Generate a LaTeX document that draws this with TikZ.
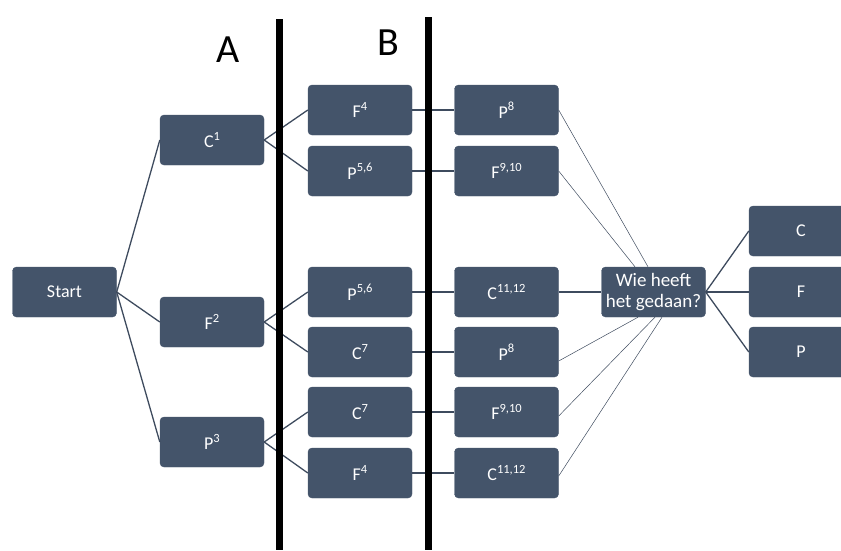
\documentclass[tikz,border=0pt]{standalone}
\usepackage{fontspec}
\setmainfont{Carlito}
\definecolor{boxcol}{HTML}{44546A}
\definecolor{linecol}{HTML}{3E4B5E}
\newcommand{\supnum}[1]{\raisebox{0.42em}{\fontsize{12.5}{12.5}\selectfont #1}}
\tikzset{
  box/.style={draw=boxcol, fill=boxcol, rounded corners=4pt, minimum width=104pt, minimum height=50pt, inner sep=0pt, text=white, align=center, font=\fontsize{18}{21}\selectfont},
  link/.style={draw=linecol, line width=1.3pt},
  thinlink/.style={draw=linecol, line width=0.5pt},
  bar/.style={line width=7pt, black},
  colname/.style={font=\fontsize{40}{40}\selectfont}
}
\begin{document}
\begin{tikzpicture}[x=1pt, y=-1pt]
    \useasboundingbox (0,0) rectangle (841,550);
    \clip (0,0) rectangle (841,550);

    \node[box] (Start) at (64.5, 292) {Start};

    \node[box] (C1) at (212, 140) {C\supnum{1}};
    \node[box] (F2) at (212, 322) {F\supnum{2}};
    \node[box] (P3) at (212, 442) {P\supnum{3}};

    \node[box] (F4a) at (360, 110) {F\supnum{4}};
    \node[box] (P56a) at (360, 171) {P\supnum{5,6}};
    \node[box] (P56b) at (360, 292) {P\supnum{5,6}};
    \node[box] (C7a) at (360, 352) {C\supnum{7}};
    \node[box] (C7b) at (360, 412) {C\supnum{7}};
    \node[box] (F4b) at (360, 473) {F\supnum{4}};

    \node[box] (P8a) at (506.5, 110) {P\supnum{8}};
    \node[box] (F910a) at (506.5, 171) {F\supnum{9,10}};
    \node[box] (C1112a) at (506.5, 292) {C\supnum{11,12}};
    \node[box] (P8b) at (506.5, 352) {P\supnum{8}};
    \node[box] (F910b) at (506.5, 412) {F\supnum{9,10}};
    \node[box] (C1112b) at (506.5, 473) {C\supnum{11,12}};

    \node[box, font=\fontsize{19}{21}\selectfont] (Wie) at (653.5, 292) {Wie heeft\\het gedaan?};

    \node[box] (C) at (801, 231) {C};
    \node[box] (F) at (801, 292) {F};
    \node[box] (P) at (801, 352) {P};

    \node[colname] (A) at (228, 50) {A};
    \node[colname] (B) at (388, 43) {B};

    % Lines
    \draw[link] (Start.east) -- (C1.west);
    \draw[link] (Start.east) -- (F2.west);
    \draw[link] (Start.east) -- (P3.west);

    \draw[link] (C1.east) -- (F4a.west);
    \draw[link] (C1.east) -- (P56a.west);
    \draw[link] (F2.east) -- (P56b.west);
    \draw[link] (F2.east) -- (C7a.west);
    \draw[link] (P3.east) -- (C7b.west);
    \draw[link] (P3.east) -- (F4b.west);

    \draw[link] (F4a) -- (P8a);
    \draw[link] (P56a) -- (F910a);
    \draw[link] (P56b) -- (C1112a);
    \draw[link] (C7a) -- (P8b);
    \draw[link] (C7b) -- (F910b);
    \draw[link] (F4b) -- (C1112b);

    \draw[thinlink] (P8a.east) -- ([xshift=-5.5pt]Wie.north);
    \draw[thinlink] (F910a.east) -- ([xshift=-18.5pt]Wie.north);
    \draw[link] (C1112a) -- (Wie);
    \draw[thinlink] ([yshift=-9pt]P8b.east) -- ([xshift=-15.5pt]Wie.south);
    \draw[thinlink] ([yshift=-4pt]F910b.east) -- ([xshift=1.5pt]Wie.south);
    \draw[thinlink] ([yshift=-3pt]C1112b.east) -- ([xshift=8.5pt]Wie.south);

    \draw[link] (Wie.east) -- (C.west);
    \draw[link] (Wie.east) -- (F.west);
    \draw[link] (Wie.east) -- (P.west);

    % Bars
    \draw[bar] (279.5, 19) -- (279.5, 550);
    \draw[bar] (428, 17) -- (428, 550);
\end{tikzpicture}
\end{document}
